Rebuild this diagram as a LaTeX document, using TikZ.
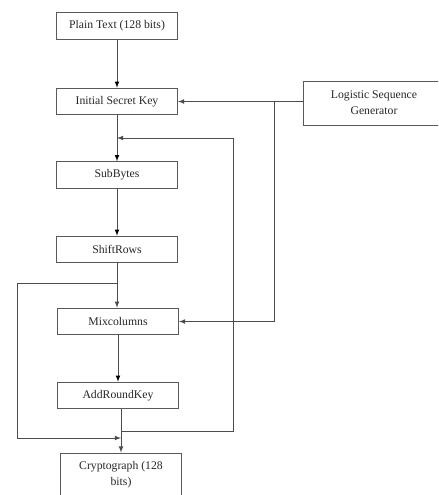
\documentclass[tikz,border=0pt]{standalone}
\usepackage{fontspec}
\setmainfont{Liberation Serif}
\usetikzlibrary{arrows}

\begin{document}
\begin{tikzpicture}[x=0.03cm, y=-0.03cm]

\tikzstyle{block}=[rectangle, draw=black!65, line width=0.8pt, minimum width=3.63cm, minimum height=0.8cm, inner sep=1pt, font=\fontsize{10}{13.5}\selectfont, text=black!85]
\tikzstyle{connect}=[-latex, line width=0.8pt, draw=black!70]
\tikzstyle{wire}=[line width=0.8pt, draw=black!70]

\clip (0,0) rectangle (438,495);

\node[block] (plain) at (117,26)  {Plain Text (128 bits)};
\node[block] (isk) at (117,101.5)  {Initial Secret Key};
\node[block, minimum width=4.26cm, minimum height=1.32cm, align=center] (lsg) at (374,103)  {Logistic Sequence\\Generator};

\node[block] (subbytes) at (117,175)  {SubBytes};
\node[block] (shiftrows) at (117,249.5)  {ShiftRows};
\node[block] (mixcol) at (118,321.5)  {Mixcolumns};
\node[block] (addround) at (118,395.5)  {AddRoundKey};
\node[block, minimum height=1.32cm, align=center] (crypto) at (121,475)  {Cryptograph (128\\bits)};

% junctions
\coordinate (tap) at (274,101.5);
\coordinate (rndtop) at (233,138);
\coordinate (rndlow) at (233,431);
\coordinate (bypass) at (117,283);
\coordinate (bypassl) at (17,283);
\coordinate (bypassb) at (17,438);

\path (plain) [connect]  edge (isk);
\path (isk) [connect]  edge (subbytes);
\path (subbytes) [connect]  edge (shiftrows);
\draw[connect] (shiftrows.south) -- (shiftrows.south |- mixcol.north);
\path (mixcol) [connect]  edge (addround);
\draw[connect] (addround.south -| crypto) -- (crypto.north);

\draw[connect] (isk.east -| lsg.west) -- (isk.east);
\draw[connect] (tap) |- (mixcol.east);

\draw[wire] (rndlow -| crypto) -- (rndlow) -- (rndtop);
\draw[connect] (rndtop) -- (rndtop -| isk);

\draw[wire] (bypass) -- (bypassl) -- (bypassb);
\draw[connect] (bypassb) -- (bypassb -| crypto);

\end{tikzpicture}
\end{document}
